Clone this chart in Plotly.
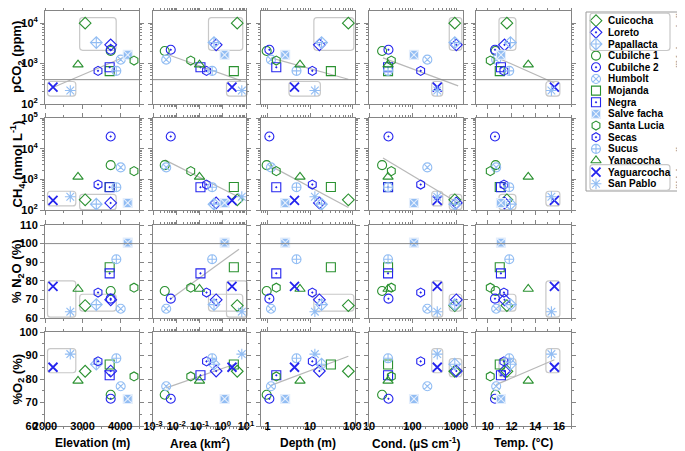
import numpy as np
import plotly.graph_objects as go

FONT = "Arial, Liberation Sans, sans-serif"

lakes = ["Cuicocha", "Loreto", "Papallacta", "Cubilche 1", "Cubilche 2", "Humbolt",
         "Mojanda", "Negra", "Salve facha", "Santa Lucia", "Secas", "Sucus",
         "Yanacocha", "Yaguarcocha", "San Pablo"]

# lake properties (x variables)
elevation = [3068, 3747, 3364, 3747, 3747, 4013, 3720, 3720, 4200, 4367, 3410, 3897, 2878, 2213, 2673]
area = [4.2, 0.52, 0.42, 0.0032, 0.0058, 0.0037, 3.0, 0.11, 1.2, 0.042, 0.20, 0.35, 0.10, 2.5, 6.6]
depth = [80, 16.6, 18.7, 0.95, 1.1, 1.2, 31, 1.6, 2.6, 1.6, 11.3, 4.8, 5.8, 4.3, 13]
cond = [935, 1015, 935, 20, 28, 219, 27.4, 27.4, 108, 32.6, 154, 27.4, 27.4, 370, 370]
temp = [11.6, 11.4, 11.9, 10.65, 10.6, 10.7, 11.0, 11.1, 11.1, 10.2, 11.35, 11.8, 13.4, 15.6, 15.35]

# gases (y variables)
pco2 = [10000, 2900, 3300, 2050, 2190, 1250, 650, 810, 1650, 1190, 660, 660, 940, 263, 215]
ch4 = [215, 170, 155, 2900, 25000, 2450, 560, 555, 170, 1850, 675, 555, 1200, 205, 270]
n2o = [66.7, 69.8, 67.2, 74.5, 70.4, 65.0, 87.3, 84.0, 100.5, 76.3, 73.7, 91.6, 75.6, 77.0, 63.4]
o2 = [83.3, 83.4, 86.3, 73.3, 71.6, 76.9, 86.2, 81.6, 71.5, 81.1, 87.5, 88.8, 79.2, 85.0, 90.6]

volcanic = ["Cuicocha", "Loreto", "Papallacta"]
urban = ["Yaguarcocha", "San Pablo"]

# reference levels
pco2_atm = 400
n2o_sat = 100

# trend lines: ([x0, x1], [y0, y1])
trend_pco2_elev = ([2210, 4250], [255, 1650])
trend_pco2_area = ([0.0045, 6.0], [1650, 380])
trend_pco2_depth = ([1.2, 80], [1380, 410])
trend_pco2_cond = ([21, 1120], [1380, 280])
trend_pco2_temp = ([10.7, 15.6], [1440, 330])
trend_ch4_area = ([0.0032, 4.6], [4300, 270])
trend_ch4_depth = ([1.2, 80], [2700, 120])
trend_ch4_cond = ([21, 1000], [5000, 185])
trend_n2o_area = ([0.006, 5.0], [70.5, 97])
trend_o2_area = ([0.0037, 4.6], [76.2, 86.8])
trend_o2_depth = ([1.2, 80], [77.3, 89.7])
trend_o2_temp = ([10.7, 15.6], [77.6, 88.2])

trends = {(0, 0): trend_pco2_elev, (0, 1): trend_pco2_area, (0, 2): trend_pco2_depth,
          (0, 3): trend_pco2_cond, (0, 4): trend_pco2_temp, (1, 1): trend_ch4_area,
          (1, 2): trend_ch4_depth, (1, 3): trend_ch4_cond, (2, 1): trend_n2o_area,
          (3, 1): trend_o2_area, (3, 2): trend_o2_depth, (3, 4): trend_o2_temp}

# panels where the groups are boxed
volc_box_cells = [(0, 0), (0, 1), (0, 2), (0, 3), (0, 4), (1, 0), (1, 3), (1, 4),
                  (2, 0), (2, 1), (2, 2), (2, 3), (2, 4), (3, 3), (3, 4)]
urban_box_cells = [(0, 0), (0, 1), (0, 2), (0, 3), (0, 4), (1, 0), (1, 3), (1, 4),
                   (2, 0), (2, 1), (2, 3), (2, 4), (3, 0), (3, 3), (3, 4)]

green, blue, light = "#2a9130", "#2424ee", "#92bdf3"
colors = [green, blue, light] * 5
symbols = ["diamond-open", "diamond-open-dot", "diamond-cross-open",
           "circle-open", "circle-open-dot", "circle-x-open",
           "square-open", "square-open-dot", "square-x",
           "hexagon-open", "hexagon-open-dot", "circle-cross-open",
           "triangle-up-open", "x-thin-open", "asterisk-open"]
line_w = [1.8 if s == "x-thin-open" else 1.1 for s in symbols]
line_c = ["#e4eefc" if s == "square-x" else c for s, c in zip(symbols, colors)]

W, H = 685, 451
col_px = [(37, 131), (145, 238), (253, 347), (361, 455), (468, 563)]
row_px = [(3, 96), (110, 202), (217, 310), (324, 418)]

xvars = [(elevation, "linear", [2000, 4500], "Elevation (m)"),
         (area, "log", [-3, 1], "Area (km<sup>2</sup>)"),
         (depth, "log", [-0.156, 2.06], "Depth (m)"),
         (cond, "log", [1.0, 3.16], "Cond. (µS cm<sup>-1</sup>)"),
         (temp, "linear", [9, 17], "Temp. (°C)")]
yvars = [(pco2, "log", [2, 4.3], "pCO<sub>2</sub> (ppm)"),
         (ch4, "log", [2, 5], "CH<sub>4</sub> (nmol L<sup>-1</sup>)"),
         (n2o, "linear", [60, 110], "% N<sub>2</sub>O (%)"),
         (o2, "linear", [60, 100], "%O<sub>2</sub> (%)")]

x_ticks = [([2000, 3000, 4000], None, 500),
           ([1e-3, 1e-2, 1e-1, 1, 10], ["10<sup>-3</sup>", "10<sup>-2</sup>", "10<sup>-1</sup>",
                                         "10<sup>0</sup>", "10<sup>1</sup>"], None),
           ([1, 10, 100], ["1", "10", "100"], None),
           ([10, 100, 1000], ["10", "100", "1000"], None),
           ([10, 12, 14, 16], None, 1)]
y_ticks = [([100, 1000, 10000], ["10<sup>2</sup>", "10<sup>3</sup>", "10<sup>4</sup>"], None),
           ([100, 1000, 10000, 100000], ["10<sup>2</sup>", "10<sup>3</sup>", "10<sup>4</sup>",
                                         "10<sup>5</sup>"], None),
           ([60, 70, 80, 90, 100, 110], None, 5),
           ([60, 70, 80, 90, 100], None, 5)]


def log_minor(rng):
    vals = []
    for d in range(int(np.floor(rng[0])), int(np.ceil(rng[1])) + 1):
        for m in range(2, 10):
            v = m * 10.0 ** d
            if rng[0] <= np.log10(v) <= rng[1]:
                vals.append(v)
    return vals


def frac(v, kind, rng):
    v = np.log10(np.asarray(v, float)) if kind == "log" else np.asarray(v, float)
    return (v - rng[0]) / (rng[1] - rng[0])


def box_path(x0, x1, y0, y1, rx, ry):
    return (f"M{x0 + rx},{y0} L{x1 - rx},{y0} Q{x1},{y0} {x1},{y0 + ry} "
            f"L{x1},{y1 - ry} Q{x1},{y1} {x1 - rx},{y1} L{x0 + rx},{y1} "
            f"Q{x0},{y1} {x0},{y1 - ry} L{x0},{y0 + ry} Q{x0},{y0} {x0 + rx},{y0} Z")


def axis_style(kind, rng, ticks, show_labels, domain, anchor, standoff):
    vals, text, minor_dt = ticks
    ax = dict(type=kind, range=rng, domain=domain, anchor=anchor, automargin=False,
              showline=True, linecolor="#858585", linewidth=1, mirror="ticks",
              ticks="outside", ticklen=4, tickcolor="#858585", showgrid=False,
              zeroline=False, tickmode="array", tickvals=vals,
              showticklabels=show_labels, ticklabelstandoff=standoff,
              tickfont=dict(family=FONT, size=11, color="black", weight="bold"))
    if text is not None:
        ax["ticktext"] = text
    if kind == "log":
        ax["minor"] = dict(ticks="outside", ticklen=2, tickcolor="#858585",
                           tickmode="array", tickvals=log_minor(rng))
    else:
        ax["minor"] = dict(ticks="outside", ticklen=2, tickcolor="#858585", dtick=minor_dt)
    return ax


fig = go.Figure()
layout = {}
shapes = []
annotations = []

idx_v = [lakes.index(n) for n in volcanic]
idx_u = [lakes.index(n) for n in urban]

for r, (yv, ykind, yrng, ytitle) in enumerate(yvars):
    for c, (xv, xkind, xrng, xtitle) in enumerate(xvars):
        k = r * 5 + c + 1
        xa, ya = ("x", "y") if k == 1 else (f"x{k}", f"y{k}")
        xd = [col_px[c][0] / W, col_px[c][1] / W]
        yd = [1 - row_px[r][1] / H, 1 - row_px[r][0] / H]
        layout["xaxis" if k == 1 else f"xaxis{k}"] = axis_style(
            xkind, xrng, x_ticks[c], r == 3, xd, ya, -14)
        layout["yaxis" if k == 1 else f"yaxis{k}"] = axis_style(
            ykind, yrng, y_ticks[r], c == 0, yd, xa, 0)

        # reference lines
        if r == 0:
            shapes.append(dict(type="line", xref=f"{xa} domain", yref=ya, x0=0, x1=1,
                               y0=pco2_atm, y1=pco2_atm, line=dict(color="#8a8a8a", width=1)))
        if r == 2:
            shapes.append(dict(type="line", xref=f"{xa} domain", yref=ya, x0=0, x1=1,
                               y0=n2o_sat, y1=n2o_sat, line=dict(color="#8a8a8a", width=1)))

        # group boxes
        wpx = col_px[c][1] - col_px[c][0]
        hpx = row_px[r][1] - row_px[r][0]
        fx = frac(xv, xkind, xrng)
        fy = frac(yv, ykind, yrng)
        for cells, ids in ((volc_box_cells, idx_v), (urban_box_cells, idx_u)):
            if (r, c) not in cells:
                continue
            x0 = min(fx[i] for i in ids) - 5.5 / wpx
            x1 = max(fx[i] for i in ids) + 5.5 / wpx
            y0 = min(fy[i] for i in ids) - 5.5 / hpx
            y1 = max(fy[i] for i in ids) + 5.5 / hpx
            shapes.append(dict(type="path", xref=f"{xa} domain", yref=f"{ya} domain",
                               path=box_path(x0, x1, y0, y1, 3 / wpx, 3 / hpx),
                               line=dict(color="#c8c8c8", width=1.2), layer="below"))

        # trend line
        if (r, c) in trends:
            tx, ty = trends[(r, c)]
            fig.add_trace(go.Scatter(x=tx, y=ty, mode="lines", xaxis=xa, yaxis=ya,
                                     line=dict(color="#b8b8b8", width=1.2),
                                     hoverinfo="skip", showlegend=False))

        fig.add_trace(go.Scatter(
            x=xv, y=yv, mode="markers", xaxis=xa, yaxis=ya, text=lakes,
            marker=dict(symbol=symbols, color=colors, size=9,
                        line=dict(width=line_w, color=line_c)),
            showlegend=False))

        if r == 3:
            annotations.append(dict(x=sum(col_px[c]) / 2 / W, y=1 - 435 / H,
                                    xref="paper", yref="paper", showarrow=False,
                                    xanchor="center", yanchor="middle",
                                    text=f"<b>{xtitle}</b>",
                                    font=dict(family=FONT, size=12, color="black")))
    annotations.append(dict(x=9.5 / W, y=1 - sum(row_px[r]) / 2 / H, xref="paper",
                            yref="paper", showarrow=False, textangle=-90,
                            xanchor="center", yanchor="middle",
                            text=f"<b>{ytitle}</b>",
                            font=dict(family=FONT, size=13, color="black")))

# hand-drawn legend in its own (hidden) axes, in pixel units
leg_x0, leg_x1, leg_top, leg_bot = 578, 685, 4, 183
layout["xaxis21"] = dict(domain=[leg_x0 / W, leg_x1 / W], range=[leg_x0, leg_x1],
                         visible=False, anchor="y21", fixedrange=True, automargin=False)
layout["yaxis21"] = dict(domain=[1 - leg_bot / H, 1 - leg_top / H], range=[leg_bot, leg_top],
                         visible=False, anchor="x21", fixedrange=True, automargin=False)
leg_y = [12.7 + i * 11.65 for i in range(len(lakes))]
fig.add_trace(go.Scatter(
    x=[588] * len(lakes), y=leg_y, mode="markers", xaxis="x21", yaxis="y21",
    marker=dict(symbol=symbols, color=colors, size=9, line=dict(width=line_w, color=line_c)),
    hoverinfo="skip", showlegend=False, cliponaxis=False))
for name, yy in zip(lakes, leg_y):
    annotations.append(dict(x=598, y=yy, xref="x21", yref="y21", text=f"<b>{name}</b>",
                            xanchor="left", yanchor="middle", showarrow=False,
                            font=dict(family=FONT, size=10, color="black")))

shapes.append(dict(type="rect", xref="paper", yref="paper", x0=leg_x0 / W, x1=1.02,
                   y0=1 - leg_bot / H, y1=1 - leg_top / H, line=dict(color="#9a9a9a", width=1)))
for top, bottom in ((leg_y[0], leg_y[2]), (leg_y[13], leg_y[14])):
    x0, x1 = 582 / W, 662 / W
    y0, y1 = 1 - (bottom + 6.5) / H, 1 - (top - 7.5) / H
    shapes.append(dict(type="path", xref="paper", yref="paper",
                       path=box_path(x0, x1, y0, y1, 3 / W, 3 / H),
                       line=dict(color="#c8c8c8", width=1.2)))
annotations.append(dict(x=672 / W, y=1 - 33 / H, xref="paper", yref="paper",
                        xanchor="center", yanchor="middle",
                        text='"Volcanic"', textangle=-90, showarrow=False,
                        font=dict(family=FONT, size=11, color="#a8a8a8", weight="bold")))
annotations.append(dict(x=672 / W, y=1 - 160 / H, xref="paper", yref="paper",
                        xanchor="center", yanchor="middle",
                        text='"Urban"', textangle=-90, showarrow=False,
                        font=dict(family=FONT, size=11, color="#a8a8a8", weight="bold")))

fig.update_layout(**layout)
fig.update_layout(template="none", width=W, height=H, margin=dict(l=0, r=0, t=0, b=0),
                  plot_bgcolor="rgba(0,0,0,0)", paper_bgcolor="white", showlegend=False,
                  shapes=shapes, annotations=annotations,
                  font=dict(family=FONT))
fig.write_html("out.html")
